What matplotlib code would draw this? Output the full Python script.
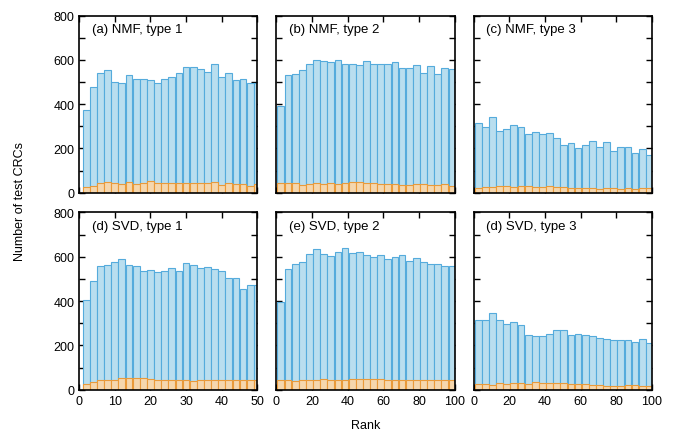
import matplotlib
matplotlib.use("Agg")
import matplotlib.pyplot as plt
import numpy as np
from matplotlib.ticker import MultipleLocator

plt.rcParams["font.family"] = ["Liberation Sans", "DejaVu Sans"]

# bar centres (rank) for the two x-ranges
rank_50 = np.arange(2, 51, 2)
rank_100 = np.arange(2.5, 100, 4)

# NMF
nmf1_total = [373, 476, 539, 556, 500, 494, 530, 515, 515, 509, 494, 512, 524,
              539, 569, 566, 557, 545, 582, 524, 542, 509, 512, 494, 494]
nmf1_hit = [24, 29, 44, 50, 44, 39, 48, 41, 44, 51, 44, 44, 44,
            44, 44, 44, 42, 44, 47, 36, 45, 39, 39, 32, 39]
nmf2_total = [393, 533, 538, 556, 583, 601, 595, 588, 601, 583, 583, 577, 595,
              583, 583, 583, 592, 565, 565, 576, 541, 571, 535, 563, 560]
nmf2_hit = [42, 42, 42, 35, 38, 42, 41, 42, 38, 42, 47, 47, 44,
            44, 39, 39, 39, 36, 35, 41, 38, 36, 36, 39, 32]
nmf3_total = [316, 298, 343, 279, 287, 307, 299, 263, 276, 266, 269, 248, 216,
              225, 201, 217, 234, 207, 227, 189, 205, 205, 181, 198, 171]
nmf3_hit = [23, 27, 27, 30, 29, 27, 29, 29, 27, 26, 30, 24, 24,
            23, 21, 21, 20, 18, 20, 21, 18, 21, 18, 20, 20]

# SVD
svd1_total = [407, 490, 557, 563, 578, 590, 563, 559, 538, 541, 530, 536, 551,
              538, 574, 565, 551, 553, 547, 538, 505, 503, 455, 473, 473]
svd1_hit = [24, 33, 46, 46, 45, 55, 55, 51, 51, 48, 46, 43, 42,
            42, 42, 40, 42, 46, 42, 46, 46, 45, 42, 46, 42]
svd2_total = [397, 544, 568, 578, 613, 635, 613, 602, 622, 640, 617, 623, 608,
              598, 607, 589, 601, 608, 583, 593, 578, 569, 569, 559, 559]
svd2_hit = [46, 46, 39, 42, 42, 46, 48, 46, 46, 46, 48, 48, 48,
            48, 49, 45, 46, 46, 46, 46, 46, 46, 46, 46, 46]
svd3_total = [316, 315, 348, 316, 297, 307, 294, 249, 244, 244, 253, 271, 268,
              249, 253, 249, 241, 232, 229, 226, 223, 223, 217, 228, 213]
svd3_hit = [25, 25, 22, 30, 28, 30, 30, 27, 33, 31, 30, 30, 30,
            28, 27, 24, 22, 22, 18, 16, 16, 19, 19, 16, 15]

panels = [
    ("(a) NMF, type 1", rank_50, 2.0, nmf1_total, nmf1_hit, 50, 10),
    ("(b) NMF, type 2", rank_100, 4.0, nmf2_total, nmf2_hit, 100, 20),
    ("(c) NMF, type 3", rank_100, 4.0, nmf3_total, nmf3_hit, 100, 20),
    ("(d) SVD, type 1", rank_50, 2.0, svd1_total, svd1_hit, 50, 10),
    ("(e) SVD, type 2", rank_100, 4.0, svd2_total, svd2_hit, 100, 20),
    ("(d) SVD, type 3", rank_100, 4.0, svd3_total, svd3_hit, 100, 20),
]

BLUE_FILL = "#b9deef"
BLUE_EDGE = "#55abdc"
ORANGE_FILL = "#f5d7ae"
ORANGE_EDGE = "#e99a3a"

fig, axes = plt.subplots(2, 3, figsize=(6.76, 4.39), dpi=100)
fig.subplots_adjust(left=0.117, right=0.9645, bottom=0.110, top=0.9624,
                    wspace=0.107, hspace=0.111)

for i, (ax, (title, x, w, total, hit, xmax, xstep)) in enumerate(zip(axes.flat, panels)):
    bw = w * 0.95
    ax.bar(x, total, width=bw, color=BLUE_FILL, edgecolor=BLUE_EDGE, linewidth=0.8, zorder=2)
    ax.bar(x, hit, width=bw, color=ORANGE_FILL, edgecolor=ORANGE_EDGE, linewidth=0.8, zorder=3)
    ax.set_xlim(0, xmax)
    ax.set_ylim(0, 800)
    ax.xaxis.set_major_locator(MultipleLocator(xstep))
    ax.yaxis.set_major_locator(MultipleLocator(200))
    ax.yaxis.set_minor_locator(MultipleLocator(100))
    ax.tick_params(which="both", direction="in", top=True, right=True,
                   length=4, width=1.0, labelsize=9)
    for sp in ax.spines.values():
        sp.set_linewidth(1.2)
        sp.set_zorder(5)
    ax.text(0.07, 0.925, title, transform=ax.transAxes, fontsize=9.5,
            ha="left", va="center", zorder=6)
    if i % 3 != 0:
        ax.set_yticklabels([])
    if i < 3:
        ax.set_xticklabels([])

fig.text(0.03, 0.54, "Number of test CRCs", rotation=90, ha="center", va="center", fontsize=9)
fig.text(0.541, 0.03, "Rank", ha="center", va="center", fontsize=9)

fig.savefig("out.png", dpi=100)
